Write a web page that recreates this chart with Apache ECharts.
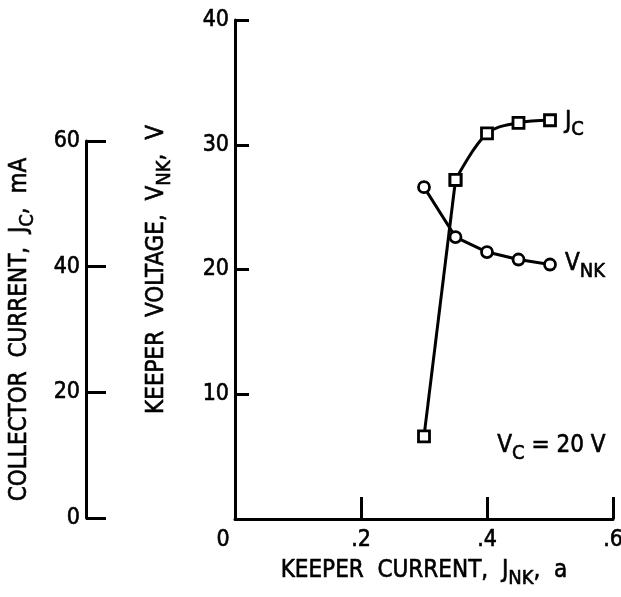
<!DOCTYPE html>
<html>
<head>
<meta charset="utf-8">
<script src="https://cdn.jsdelivr.net/npm/echarts@6/dist/echarts.min.js"></script>
<style>
  html, body { margin: 0; padding: 0; background: #fff; }
  #chart { width: 621px; height: 597px; }
</style>
</head>
<body>
<div id="chart"></div>
<script>
// Keeper current (a) at each measured operating point
const keeperCurrent = [0.30, 0.35, 0.40, 0.45, 0.50];
// Keeper voltage V_NK (V)
const keeperVoltage = [26.6, 22.6, 21.4, 20.8, 20.4];
// Collector current J_C (mA)
const collectorCurrent = [13.0, 53.8, 61.2, 62.9, 63.3];

// Tick values and their printed labels
const currentTicks = [0, 0.2, 0.4, 0.6];
const currentTickLabels = ['0', '.2', '.4', '.6'];
const voltageTicks = [10, 20, 30, 40];
const collectorTicks = [0, 20, 40, 60];

const FONT = '"DejaVu Sans Condensed", "DejaVu Sans", sans-serif';
const BLACK = '#000';
// a thin outline gives the axis lettering a slightly heavier stroke
const INK = { textBorderColor: BLACK, textBorderWidth: 0.6 };

// rich-text styles: main text and a lowered subscript
function richStyles(size, subSize, drop, extra) {
  const add = extra || {};
  return {
    m: Object.assign({ fontFamily: FONT, fontSize: size, color: BLACK, lineHeight: size + 2, verticalAlign: 'top' }, add),
    s: Object.assign({ fontFamily: FONT, fontSize: subSize, color: BLACK, lineHeight: subSize + 1, verticalAlign: 'top', padding: [drop, 0, 0, 0] }, add)
  };
}

const vnkPairs = keeperCurrent.map((x, i) => [x, keeperVoltage[i]]);
const jcPairs = keeperCurrent.map((x, i) => [x, collectorCurrent[i]]);
// J_C is a straight rise to the second point, then a smooth knee
const jcRise = jcPairs.slice(0, 2);
const jcKnee = jcPairs.slice(1);

const axisLineStyle = { color: BLACK, width: 3 };
const tickFont = Object.assign({ fontFamily: FONT, fontSize: 23, color: BLACK }, INK);

const chart = echarts.init(document.getElementById('chart'), null, { renderer: 'canvas' });

const markerStyle = { color: '#fff', borderColor: BLACK, borderWidth: 2.8 };
const curveStyle = { color: BLACK, width: 3 };

chart.setOption({
  backgroundColor: '#fff',
  animation: false,
  grid: [
    { left: 235, right: 8, top: 20, bottom: 78, outerBoundsMode: 'none', containLabel: false },
    { left: 235, right: 8, top: 141, bottom: 79, outerBoundsMode: 'none', containLabel: false }
  ],
  xAxis: [
    {
      type: 'value', gridIndex: 0, min: 0, max: 0.6, interval: 0.2,
      axisLine: { show: true, onZero: false, lineStyle: axisLineStyle },
      axisTick: { show: true, inside: true, length: 22, lineStyle: axisLineStyle },
      splitLine: { show: false },
      axisLabel: {
        margin: 10,
        formatter: v => {
          const i = currentTicks.findIndex(t => Math.abs(t - v) < 1e-9);
          const txt = i >= 0 ? currentTickLabels[i] : '';
          return v === 0 ? '{z|' + txt + '}' : '{m|' + txt + '}';
        },
        rich: {
          m: Object.assign({}, tickFont),
          z: Object.assign({ padding: [0, 24, 0, 0] }, tickFont)
        }
      },
      name: '{m|KEEPER  CURRENT,  J}{s|NK}{m|,  a}',
      nameLocation: 'middle',
      nameGap: 40,
      nameTextStyle: { rich: richStyles(24, 20, 10, INK) }
    },
    {
      type: 'value', gridIndex: 1, min: 0, max: 0.6, interval: 0.2, show: false
    }
  ],
  yAxis: [
    {
      type: 'value', gridIndex: 0, min: 0, max: 40, interval: 10,
      axisLine: { show: true, onZero: false, lineStyle: axisLineStyle },
      axisTick: { show: true, inside: true, length: 14, lineStyle: axisLineStyle },
      splitLine: { show: false },
      axisLabel: Object.assign({
        margin: 6,
        formatter: v => voltageTicks.includes(v) ? String(v) : ''
      }, tickFont),
      name: '{m|KEEPER  VOLTAGE,  V}{s|NK}{m|,  V}',
      nameLocation: 'middle',
      nameRotate: 90,
      nameGap: 64,
      nameTextStyle: { rich: richStyles(24, 20, 10, INK) }
    },
    {
      type: 'value', gridIndex: 1, min: 0, max: 60, interval: 20,
      position: 'left', offset: 149,
      axisLine: { show: true, onZero: false, lineStyle: axisLineStyle },
      axisTick: { show: true, inside: true, length: 20, lineStyle: axisLineStyle },
      splitLine: { show: false },
      axisLabel: Object.assign({
        margin: 6,
        formatter: v => collectorTicks.includes(v) ? String(v) : ''
      }, tickFont),
      name: '{m|COLLECTOR  CURRENT,  J}{s|C}{m|,  mA}',
      nameLocation: 'middle',
      nameRotate: 90,
      nameGap: 52,
      nameTextStyle: { rich: richStyles(24, 20, 10, INK) }
    }
  ],
  series: [
    {
      name: 'V_NK', type: 'line', xAxisIndex: 0, yAxisIndex: 0,
      data: vnkPairs,
      symbol: 'circle', symbolSize: 11,
      itemStyle: markerStyle, lineStyle: curveStyle,
      z: 3,
      endLabel: {
        show: true, distance: 15,
        formatter: '{m|V}{s|NK}',
        rich: richStyles(24, 20, 10, INK)
      }
    },
    {
      name: 'J_C rise', type: 'line', xAxisIndex: 1, yAxisIndex: 1,
      data: jcRise, clip: false,
      symbol: 'rect', symbolSize: 11,
      itemStyle: markerStyle, lineStyle: curveStyle,
      z: 3
    },
    {
      name: 'J_C', type: 'line', xAxisIndex: 1, yAxisIndex: 1,
      data: jcKnee, clip: false, smooth: 0.35,
      symbol: 'rect', symbolSize: 11,
      itemStyle: markerStyle, lineStyle: curveStyle,
      z: 4,
      endLabel: {
        show: true, distance: 15, offset: [0, 3],
        formatter: '{m|J}{s|C}',
        rich: richStyles(24, 20, 10, INK)
      }
    }
  ],
  graphic: [
    {
      type: 'text', left: 497, top: 433,
      style: {
        text: '{m|V}{s|C}{m| = 20 V}',
        rich: richStyles(24, 20, 10, { stroke: BLACK, lineWidth: 0.6 })
      }
    }
  ]
});
</script>
</body>
</html>
